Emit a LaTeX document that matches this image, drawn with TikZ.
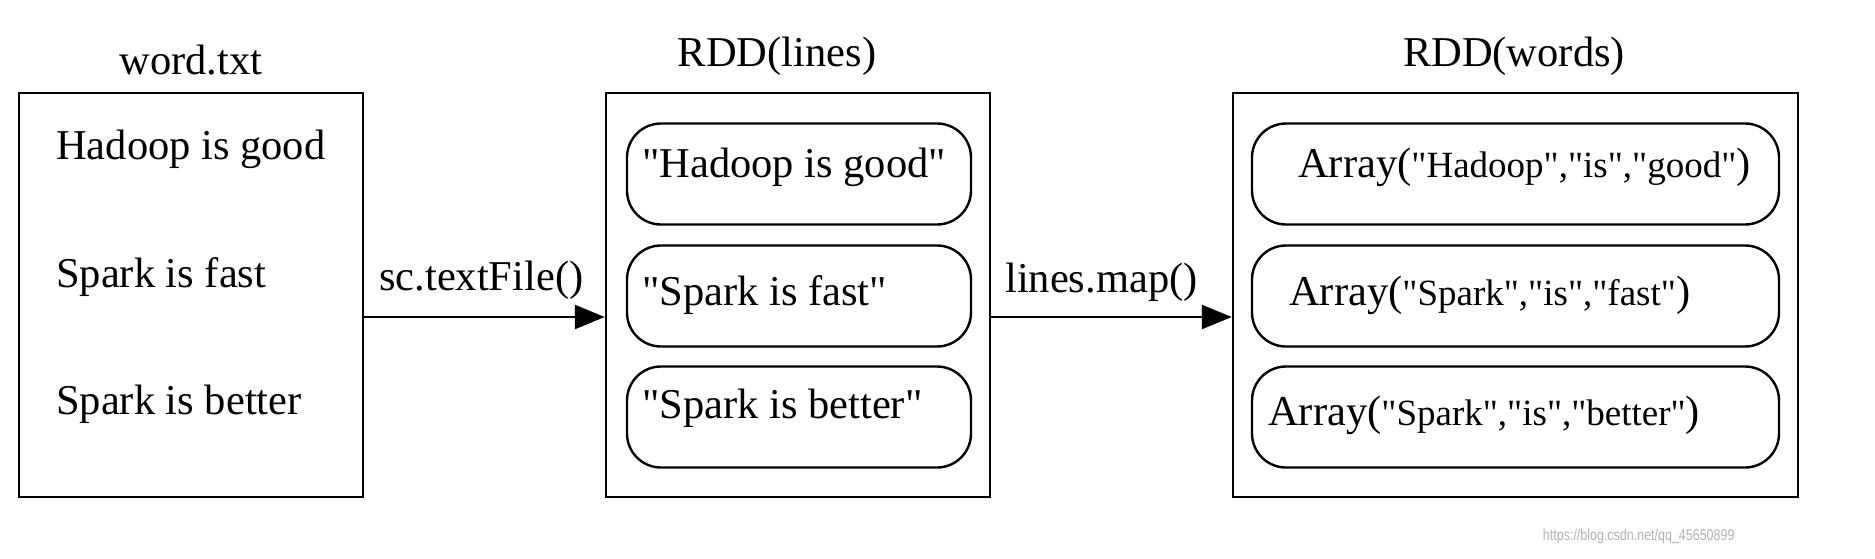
\documentclass[tikz,border=0pt]{standalone}
\usepackage{fontspec}
\setmainfont{Liberation Serif}[Ligatures=TeXOff]
\newfontfamily\wmfont{Liberation Sans}
\usetikzlibrary{arrows.meta}
\newcommand\mainsz{\fontsize{21.25pt}{25pt}\selectfont}
\newcommand\innersz{\fontsize{18.5pt}{22pt}\selectfont}
\begin{document}
\begin{tikzpicture}[x=0.5pt,y=-0.5pt,line width=1.2pt,
  outerbox/.style={draw,rectangle,inner sep=0pt,minimum height=202pt},
  pill/.style={draw,rectangle,rounded corners=17pt,inner sep=0pt,minimum height=50.5pt},
  txt/.style={inner sep=0pt,font=\mainsz},
  conn/.style={-{Triangle[length=15pt,width=12pt]}}]
\useasboundingbox (0,0) rectangle (1875,558);
% outer boxes
\node[outerbox,minimum width=172pt] (file) at (191,295) {};
\node[outerbox,minimum width=192pt] (lines) at (798,295) {};
\node[outerbox,minimum width=282.5pt] (words) at (1515.5,295) {};
% titles
\node[txt,anchor=base] (tfile) at (191,74) {word.txt};
\node[txt,anchor=base] (tlines) at (777,66) {RDD(lines)};
\node[txt,anchor=base] (twords) at (1514,66) {RDD(words)};
% file contents
\node[txt,anchor=base west] (f1) at (55,159) {Hadoop is good};
\node[txt,anchor=base west] (f2) at (55,287) {Spark is fast};
\node[txt,anchor=base west] (f3) at (55,414) {Spark is better};
% lines pills
\node[pill,minimum width=172pt] (l1) at (799,174) {};
\node[pill,minimum width=172pt] (l2) at (799,296) {};
\node[pill,minimum width=172pt] (l3) at (799,417) {};
\node[txt,anchor=base west] (lt1) at (641,177) {"Hadoop is good"};
\node[txt,anchor=base west] (lt2) at (641,305) {"Spark is fast"};
\node[txt,anchor=base west] (lt3) at (641,418) {"Spark is better"};
% words pills
\node[pill,minimum width=263.5pt] (w1) at (1515.5,174) {};
\node[pill,minimum width=263.5pt] (w2) at (1515.5,296) {};
\node[pill,minimum width=263.5pt] (w3) at (1515.5,417) {};
\node[txt,anchor=base west] (wt1) at (1297,177) {Array(\innersz"Hadoop","is","good"\mainsz)};
\node[txt,anchor=base west] (wt2) at (1288,305) {Array(\innersz"Spark","is","fast"\mainsz)};
\node[txt,anchor=base west] (wt3) at (1267,425) {Array(\innersz"Spark","is","better"\mainsz)};
% connectors
\coordinate (ay) at (0,317);
\draw[conn] (file.east |- ay) -- (lines.west |- ay);
\draw[conn] (lines.east |- ay) -- (words.west |- ay);
\node[txt,anchor=base west] (c1) at (378,290) {sc.textFile()};
\node[txt,anchor=base west] (c2) at (1004,292) {lines.map()};
% watermark
\node[inner sep=0pt,anchor=base west,text=black!30,xscale=0.8,transform shape,font=\wmfont\fontsize{7.8pt}{9pt}\selectfont] (wm) at (1542,540) {https://blog.csdn.net/qq\_45650899};
\end{tikzpicture}
\end{document}
